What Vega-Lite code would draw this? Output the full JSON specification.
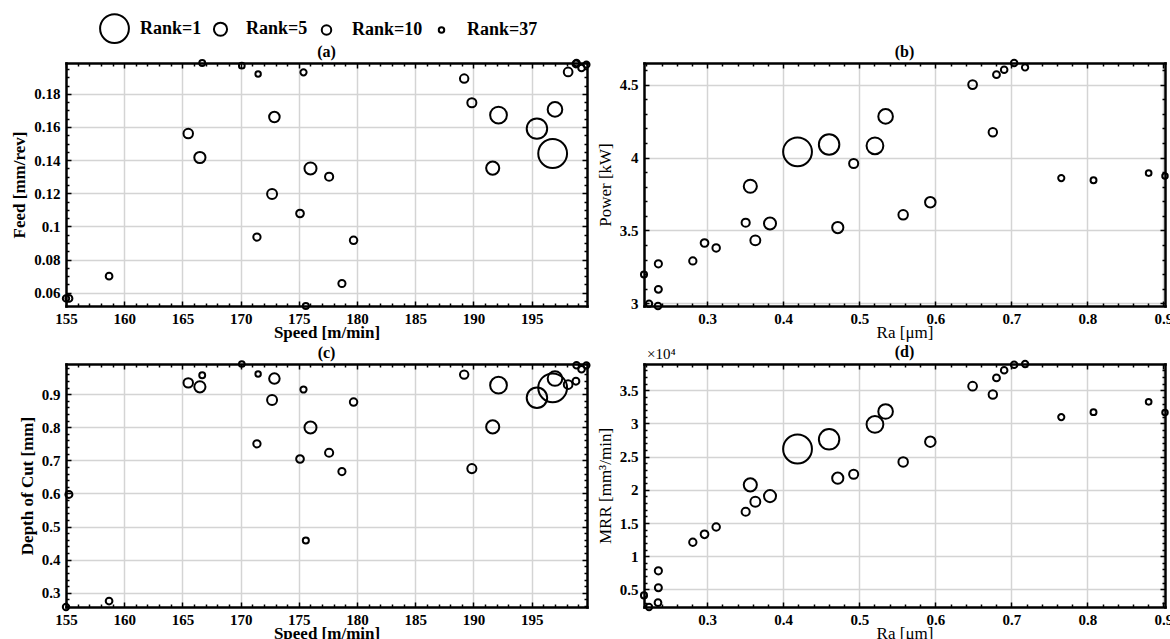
{
  "$schema": "https://vega.github.io/schema/vega-lite/v6.json",
  "background": "white",
  "padding": {"left": 10, "top": 13, "right": 0, "bottom": 0},
  "data": {"values": [
    {"speed":196.8,"feed":0.144,"depth":0.919,"Ra":0.4188,"power":4.039,"MRR":26150,"rank":1},
    {"speed":195.45,"feed":0.159,"depth":0.889,"Ra":0.4603,"power":4.089,"MRR":27600,"rank":2},
    {"speed":192.15,"feed":0.1672,"depth":0.927,"Ra":0.5206,"power":4.08,"MRR":29850,"rank":3},
    {"speed":197.0,"feed":0.1706,"depth":0.947,"Ra":0.5346,"power":4.282,"MRR":31800,"rank":4},
    {"speed":191.65,"feed":0.1352,"depth":0.801,"Ra":0.3567,"power":3.803,"MRR":20750,"rank":5},
    {"speed":176.0,"feed":0.135,"depth":0.799,"Ra":0.3826,"power":3.548,"MRR":19050,"rank":6},
    {"speed":166.5,"feed":0.1416,"depth":0.922,"Ra":0.4717,"power":3.52,"MRR":21750,"rank":7},
    {"speed":172.9,"feed":0.166,"depth":0.947,"Ra":0.5934,"power":3.693,"MRR":27250,"rank":8},
    {"speed":172.7,"feed":0.1196,"depth":0.882,"Ra":0.3633,"power":3.432,"MRR":18200,"rank":9},
    {"speed":165.5,"feed":0.156,"depth":0.934,"Ra":0.5577,"power":3.607,"MRR":24200,"rank":10},
    {"speed":189.86,"feed":0.1746,"depth":0.675,"Ra":0.4926,"power":3.959,"MRR":22350,"rank":11},
    {"speed":198.13,"feed":0.1932,"depth":0.929,"Ra":0.649,"power":4.5,"MRR":35600,"rank":12},
    {"speed":189.2,"feed":0.1892,"depth":0.959,"Ra":0.6756,"power":4.173,"MRR":34350,"rank":13},
    {"speed":177.6,"feed":0.13,"depth":0.723,"Ra":0.3506,"power":3.553,"MRR":16700,"rank":14},
    {"speed":175.1,"feed":0.1078,"depth":0.704,"Ra":0.2965,"power":3.414,"MRR":13300,"rank":16},
    {"speed":179.7,"feed":0.0916,"depth":0.876,"Ra":0.3118,"power":3.38,"MRR":14400,"rank":17},
    {"speed":171.4,"feed":0.0936,"depth":0.75,"Ra":0.2811,"power":3.291,"MRR":12100,"rank":18},
    {"speed":178.7,"feed":0.0656,"depth":0.666,"Ra":0.2358,"power":3.271,"MRR":7800,"rank":19},
    {"speed":155.25,"feed":0.0566,"depth":0.597,"Ra":0.2358,"power":3.096,"MRR":5250,"rank":20},
    {"speed":158.7,"feed":0.07,"depth":0.275,"Ra":0.2353,"power":2.982,"MRR":3000,"rank":22},
    {"speed":155.0,"feed":0.0566,"depth":0.257,"Ra":0.2235,"power":2.998,"MRR":2350,"rank":25},
    {"speed":175.6,"feed":0.052,"depth":0.458,"Ra":0.2169,"power":3.198,"MRR":4100,"rank":28},
    {"speed":198.8,"feed":0.198,"depth":0.939,"Ra":0.6804,"power":4.568,"MRR":36850,"rank":21},
    {"speed":199.28,"feed":0.1956,"depth":0.975,"Ra":0.6905,"power":4.602,"MRR":38000,"rank":23},
    {"speed":198.85,"feed":0.1986,"depth":0.987,"Ra":0.7036,"power":4.648,"MRR":38850,"rank":24},
    {"speed":199.7,"feed":0.1976,"depth":0.987,"Ra":0.718,"power":4.618,"MRR":38950,"rank":26},
    {"speed":175.4,"feed":0.193,"depth":0.914,"Ra":0.7656,"power":3.859,"MRR":30950,"rank":27},
    {"speed":166.7,"feed":0.1986,"depth":0.957,"Ra":0.808,"power":3.844,"MRR":31700,"rank":30},
    {"speed":170.1,"feed":0.197,"depth":0.991,"Ra":0.8805,"power":3.893,"MRR":33250,"rank":33},
    {"speed":171.5,"feed":0.192,"depth":0.961,"Ra":0.902,"power":3.874,"MRR":31650,"rank":37}
  ]},
  "columns": 2,
  "spacing": {"row": 4, "column": 2},
  "resolve": {"scale": {"size": "shared"}, "legend": {"size": "shared"}},
  "concat": [
    {
      "title": {"text": "(a)"},
      "width": 521, "height": 243,
      "layer": [
        {
          "mark": {"type": "point", "shape": "circle", "filled": false, "color": "black", "strokeWidth": 2, "opacity": 1},
          "encoding": {
            "x": {"field": "speed", "type": "quantitative", "scale": {"domain": [155, 199.75], "nice": false, "zero": false},
              "axis": {"orient": "bottom", "values": [155,156,157,158,159,160,161,162,163,164,165,166,167,168,169,170,171,172,173,174,175,176,177,178,179,180,181,182,183,184,185,186,187,188,189,190,191,192,193,194,195,196,197,198,199],
                "labelExpr": "datum.value % 5 === 0 ? format(datum.value, 'd') : ''",
                "tickSize": {"condition": {"test": "datum.value % 5 === 0", "value": -5}, "value": -3},
                "grid": true, "gridOpacity": {"condition": {"test": "datum.value % 5 === 0", "value": 1}, "value": 0},
                "labelPadding": 10, "title": "Speed [m/min]", "titleFontWeight": "bold", "titlePadding": -4}},
            "y": {"field": "feed", "type": "quantitative", "scale": {"domain": [0.052, 0.1986], "nice": false, "zero": false},
              "axis": {"orient": "left", "values": [0.055,0.06,0.065,0.07,0.075,0.08,0.085,0.09,0.095,0.1,0.105,0.11,0.115,0.12,0.125,0.13,0.135,0.14,0.145,0.15,0.155,0.16,0.165,0.17,0.175,0.18,0.185,0.19,0.195],
                "labelExpr": "abs(datum.value*50 - round(datum.value*50)) < 1e-6 ? format(datum.value, '~g') : ''",
                "tickSize": {"condition": {"test": "abs(datum.value*50 - round(datum.value*50)) < 1e-6", "value": -5}, "value": -3},
                "grid": true, "gridOpacity": {"condition": {"test": "abs(datum.value*50 - round(datum.value*50)) < 1e-6", "value": 1}, "value": 0},
                "labelPadding": 11, "title": "Feed [mm/rev]", "titleFontWeight": "bold", "titlePadding": 5}},
            "size": {"field": "rank", "type": "quantitative", "scale": {"type": "pow", "exponent": -1, "domain": [1, 37], "range": [830, 30]},
              "legend": {"orient": "none", "legendX": 33, "legendY": -50, "direction": "horizontal", "columns": 4, "values": [1, 5, 10, 37], "title": null, "labelExpr": "'Rank=' + datum.label"}}
          }
        },
        {
          "mark": {"type": "point", "opacity": 0},
          "encoding": {
            "x": {"field": "speed", "type": "quantitative",
              "axis": {"orient": "top", "values": [155,156,157,158,159,160,161,162,163,164,165,166,167,168,169,170,171,172,173,174,175,176,177,178,179,180,181,182,183,184,185,186,187,188,189,190,191,192,193,194,195,196,197,198,199],
                "labels": false, "grid": false, "title": null,
                "tickSize": {"condition": {"test": "datum.value % 5 === 0", "value": -5}, "value": -3}}},
            "y": {"field": "feed", "type": "quantitative",
              "axis": {"orient": "right", "values": [0.055,0.06,0.065,0.07,0.075,0.08,0.085,0.09,0.095,0.1,0.105,0.11,0.115,0.12,0.125,0.13,0.135,0.14,0.145,0.15,0.155,0.16,0.165,0.17,0.175,0.18,0.185,0.19,0.195],
                "labels": false, "grid": false, "title": null,
                "tickSize": {"condition": {"test": "abs(datum.value*50 - round(datum.value*50)) < 1e-6", "value": -5}, "value": -3}}}
          }
        }
      ],
      "resolve": {"axis": {"x": "independent", "y": "independent"}}
    },
    {
      "title": {"text": "(b)"},
      "width": 521, "height": 243,
      "layer": [
        {
          "mark": {"type": "point", "shape": "circle", "filled": false, "color": "black", "strokeWidth": 2, "opacity": 1},
          "encoding": {
            "x": {"field": "Ra", "type": "quantitative", "scale": {"domain": [0.2169, 0.902], "nice": false, "zero": false},
              "axis": {"orient": "bottom", "values": [0.22,0.24,0.26,0.28,0.3,0.32,0.34,0.36,0.38,0.4,0.42,0.44,0.46,0.48,0.5,0.52,0.54,0.56,0.58,0.6,0.62,0.64,0.66,0.68,0.7,0.72,0.74,0.76,0.78,0.8,0.82,0.84,0.86,0.88,0.9],
                "labelExpr": "abs(datum.value*10 - round(datum.value*10)) < 1e-6 ? format(datum.value, '~g') : ''",
                "tickSize": {"condition": {"test": "abs(datum.value*10 - round(datum.value*10)) < 1e-6", "value": -5}, "value": -3},
                "grid": true, "gridOpacity": {"condition": {"test": "abs(datum.value*10 - round(datum.value*10)) < 1e-6", "value": 1}, "value": 0},
                "labelPadding": 10, "title": "Ra [μm]", "titlePadding": -4}},
            "y": {"field": "power", "type": "quantitative", "scale": {"domain": [2.982, 4.648], "nice": false, "zero": false},
              "axis": {"orient": "left", "values": [3,3.1,3.2,3.3,3.4,3.5,3.6,3.7,3.8,3.9,4,4.1,4.2,4.3,4.4,4.5,4.6],
                "labelExpr": "abs(datum.value*2 - round(datum.value*2)) < 1e-6 ? format(datum.value, '~g') : ''",
                "tickSize": {"condition": {"test": "abs(datum.value*2 - round(datum.value*2)) < 1e-6", "value": -5}, "value": -3},
                "grid": true, "gridOpacity": {"condition": {"test": "abs(datum.value*2 - round(datum.value*2)) < 1e-6", "value": 1}, "value": 0},
                "labelPadding": 11, "title": "Power [kW]", "titlePadding": 5}},
            "size": {"field": "rank", "type": "quantitative", "scale": {"type": "pow", "exponent": -1, "domain": [1, 37], "range": [830, 30]},
              "legend": {"orient": "none", "legendX": 33, "legendY": -50, "direction": "horizontal", "columns": 4, "values": [1, 5, 10, 37], "title": null, "labelExpr": "'Rank=' + datum.label"}}
          }
        },
        {
          "mark": {"type": "point", "opacity": 0},
          "encoding": {
            "x": {"field": "Ra", "type": "quantitative",
              "axis": {"orient": "top", "values": [0.22,0.24,0.26,0.28,0.3,0.32,0.34,0.36,0.38,0.4,0.42,0.44,0.46,0.48,0.5,0.52,0.54,0.56,0.58,0.6,0.62,0.64,0.66,0.68,0.7,0.72,0.74,0.76,0.78,0.8,0.82,0.84,0.86,0.88,0.9],
                "labels": false, "grid": false, "title": null,
                "tickSize": {"condition": {"test": "abs(datum.value*10 - round(datum.value*10)) < 1e-6", "value": -5}, "value": -3}}},
            "y": {"field": "power", "type": "quantitative",
              "axis": {"orient": "right", "values": [3,3.1,3.2,3.3,3.4,3.5,3.6,3.7,3.8,3.9,4,4.1,4.2,4.3,4.4,4.5,4.6],
                "labels": false, "grid": false, "title": null,
                "tickSize": {"condition": {"test": "abs(datum.value*2 - round(datum.value*2)) < 1e-6", "value": -5}, "value": -3}}}
          }
        }
      ],
      "resolve": {"axis": {"x": "independent", "y": "independent"}}
    },
    {
      "title": {"text": "(c)"},
      "width": 521, "height": 243,
      "layer": [
        {
          "mark": {"type": "point", "shape": "circle", "filled": false, "color": "black", "strokeWidth": 2, "opacity": 1},
          "encoding": {
            "x": {"field": "speed", "type": "quantitative", "scale": {"domain": [155, 199.75], "nice": false, "zero": false},
              "axis": {"orient": "bottom", "values": [155,156,157,158,159,160,161,162,163,164,165,166,167,168,169,170,171,172,173,174,175,176,177,178,179,180,181,182,183,184,185,186,187,188,189,190,191,192,193,194,195,196,197,198,199],
                "labelExpr": "datum.value % 5 === 0 ? format(datum.value, 'd') : ''",
                "tickSize": {"condition": {"test": "datum.value % 5 === 0", "value": -5}, "value": -3},
                "grid": true, "gridOpacity": {"condition": {"test": "datum.value % 5 === 0", "value": 1}, "value": 0},
                "labelPadding": 10, "title": "Speed [m/min]", "titleFontWeight": "bold", "titlePadding": -4}},
            "y": {"field": "depth", "type": "quantitative", "scale": {"domain": [0.257, 0.991], "nice": false, "zero": false},
              "axis": {"orient": "left", "values": [0.26,0.28,0.3,0.32,0.34,0.36,0.38,0.4,0.42,0.44,0.46,0.48,0.5,0.52,0.54,0.56,0.58,0.6,0.62,0.64,0.66,0.68,0.7,0.72,0.74,0.76,0.78,0.8,0.82,0.84,0.86,0.88,0.9,0.92,0.94,0.96,0.98],
                "labelExpr": "abs(datum.value*10 - round(datum.value*10)) < 1e-6 ? format(datum.value, '~g') : ''",
                "tickSize": {"condition": {"test": "abs(datum.value*10 - round(datum.value*10)) < 1e-6", "value": -5}, "value": -3},
                "grid": true, "gridOpacity": {"condition": {"test": "abs(datum.value*10 - round(datum.value*10)) < 1e-6", "value": 1}, "value": 0},
                "labelPadding": 11, "title": "Depth of Cut [mm]", "titleFontWeight": "bold", "titlePadding": 5}},
            "size": {"field": "rank", "type": "quantitative", "scale": {"type": "pow", "exponent": -1, "domain": [1, 37], "range": [830, 30]},
              "legend": {"orient": "none", "legendX": 33, "legendY": -50, "direction": "horizontal", "columns": 4, "values": [1, 5, 10, 37], "title": null, "labelExpr": "'Rank=' + datum.label"}}
          }
        },
        {
          "mark": {"type": "point", "opacity": 0},
          "encoding": {
            "x": {"field": "speed", "type": "quantitative",
              "axis": {"orient": "top", "values": [155,156,157,158,159,160,161,162,163,164,165,166,167,168,169,170,171,172,173,174,175,176,177,178,179,180,181,182,183,184,185,186,187,188,189,190,191,192,193,194,195,196,197,198,199],
                "labels": false, "grid": false, "title": null,
                "tickSize": {"condition": {"test": "datum.value % 5 === 0", "value": -5}, "value": -3}}},
            "y": {"field": "depth", "type": "quantitative",
              "axis": {"orient": "right", "values": [0.26,0.28,0.3,0.32,0.34,0.36,0.38,0.4,0.42,0.44,0.46,0.48,0.5,0.52,0.54,0.56,0.58,0.6,0.62,0.64,0.66,0.68,0.7,0.72,0.74,0.76,0.78,0.8,0.82,0.84,0.86,0.88,0.9,0.92,0.94,0.96,0.98],
                "labels": false, "grid": false, "title": null,
                "tickSize": {"condition": {"test": "abs(datum.value*10 - round(datum.value*10)) < 1e-6", "value": -5}, "value": -3}}}
          }
        }
      ],
      "resolve": {"axis": {"x": "independent", "y": "independent"}}
    },
    {
      "title": {"text": "(d)", "offset": -13},
      "width": 521, "height": 243,
      "layer": [
        {
          "mark": {"type": "point", "shape": "circle", "filled": false, "color": "black", "strokeWidth": 2, "opacity": 1},
          "encoding": {
            "x": {"field": "Ra", "type": "quantitative", "scale": {"domain": [0.2169, 0.902], "nice": false, "zero": false},
              "axis": {"orient": "bottom", "values": [0.22,0.24,0.26,0.28,0.3,0.32,0.34,0.36,0.38,0.4,0.42,0.44,0.46,0.48,0.5,0.52,0.54,0.56,0.58,0.6,0.62,0.64,0.66,0.68,0.7,0.72,0.74,0.76,0.78,0.8,0.82,0.84,0.86,0.88,0.9],
                "labelExpr": "abs(datum.value*10 - round(datum.value*10)) < 1e-6 ? format(datum.value, '~g') : ''",
                "tickSize": {"condition": {"test": "abs(datum.value*10 - round(datum.value*10)) < 1e-6", "value": -5}, "value": -3},
                "grid": true, "gridOpacity": {"condition": {"test": "abs(datum.value*10 - round(datum.value*10)) < 1e-6", "value": 1}, "value": 0},
                "labelPadding": 10, "title": "Ra [μm]", "titlePadding": -4}},
            "y": {"field": "MRR", "type": "quantitative", "scale": {"domain": [2350, 38950], "nice": false, "zero": false},
              "axis": {"orient": "left", "values": [3000,4000,5000,6000,7000,8000,9000,10000,11000,12000,13000,14000,15000,16000,17000,18000,19000,20000,21000,22000,23000,24000,25000,26000,27000,28000,29000,30000,31000,32000,33000,34000,35000,36000,37000,38000],
                "labelExpr": "datum.value % 5000 === 0 ? format(datum.value / 10000, '~g') : ''",
                "tickSize": {"condition": {"test": "datum.value % 5000 === 0", "value": -5}, "value": -3},
                "grid": true, "gridOpacity": {"condition": {"test": "datum.value % 5000 === 0", "value": 1}, "value": 0},
                "labelPadding": 11, "title": "MRR [mm³/min]", "titlePadding": 5}},
            "size": {"field": "rank", "type": "quantitative", "scale": {"type": "pow", "exponent": -1, "domain": [1, 37], "range": [830, 30]},
              "legend": {"orient": "none", "legendX": 33, "legendY": -50, "direction": "horizontal", "columns": 4, "values": [1, 5, 10, 37], "title": null, "labelExpr": "'Rank=' + datum.label"}}
          }
        },
        {
          "mark": {"type": "point", "opacity": 0},
          "encoding": {
            "x": {"field": "Ra", "type": "quantitative",
              "axis": {"orient": "top", "values": [0.22,0.24,0.26,0.28,0.3,0.32,0.34,0.36,0.38,0.4,0.42,0.44,0.46,0.48,0.5,0.52,0.54,0.56,0.58,0.6,0.62,0.64,0.66,0.68,0.7,0.72,0.74,0.76,0.78,0.8,0.82,0.84,0.86,0.88,0.9],
                "labels": false, "grid": false, "title": null,
                "tickSize": {"condition": {"test": "abs(datum.value*10 - round(datum.value*10)) < 1e-6", "value": -5}, "value": -3}}},
            "y": {"field": "MRR", "type": "quantitative",
              "axis": {"orient": "right", "values": [3000,4000,5000,6000,7000,8000,9000,10000,11000,12000,13000,14000,15000,16000,17000,18000,19000,20000,21000,22000,23000,24000,25000,26000,27000,28000,29000,30000,31000,32000,33000,34000,35000,36000,37000,38000],
                "labels": false, "grid": false, "title": null,
                "tickSize": {"condition": {"test": "datum.value % 5000 === 0", "value": -5}, "value": -3}}}
          }
        },
        {
          "data": {"values": [{"note": "×10⁴"}]},
          "mark": {"type": "text", "align": "left", "baseline": "bottom", "dx": 3, "dy": -2, "font": "Liberation Serif", "fontSize": 15, "color": "black"},
          "encoding": {
            "text": {"field": "note"},
            "x": {"datum": 0.2169, "type": "quantitative", "axis": null},
            "y": {"datum": 38950, "type": "quantitative", "axis": null}
          }
        }
      ],
      "resolve": {"axis": {"x": "independent", "y": "independent"}}
    }
  ],
  "config": {
    "font": "Liberation Serif",
    "view": {"stroke": null},
    "axis": {
      "labelFont": "Liberation Serif", "labelFontSize": 15, "labelFontWeight": "bold", "labelColor": "black",
      "titleFont": "Liberation Serif", "titleFontSize": 17, "titleFontWeight": "normal", "titleColor": "black",
      "domainColor": "black", "domainWidth": 2.5, "domainCap": "square",
      "tickColor": "black", "tickWidth": 1.5,
      "gridColor": "#d4d4d4", "gridWidth": 1.5,
      "labelOverlap": false, "labelFlush": false, "labelBound": false
    },
    "title": {"font": "Liberation Serif", "fontSize": 16, "fontWeight": "bold", "color": "black", "offset": -4, "frame": "group"},
    "legend": {
      "labelFont": "Liberation Serif", "labelFontSize": 18, "labelFontWeight": "bold", "labelColor": "black",
      "symbolStrokeColor": "black", "symbolStrokeWidth": 2, "symbolFillColor": "transparent", "symbolType": "circle",
      "labelOffset": 10, "columnPadding": 3, "padding": 0
    }
  }
}
